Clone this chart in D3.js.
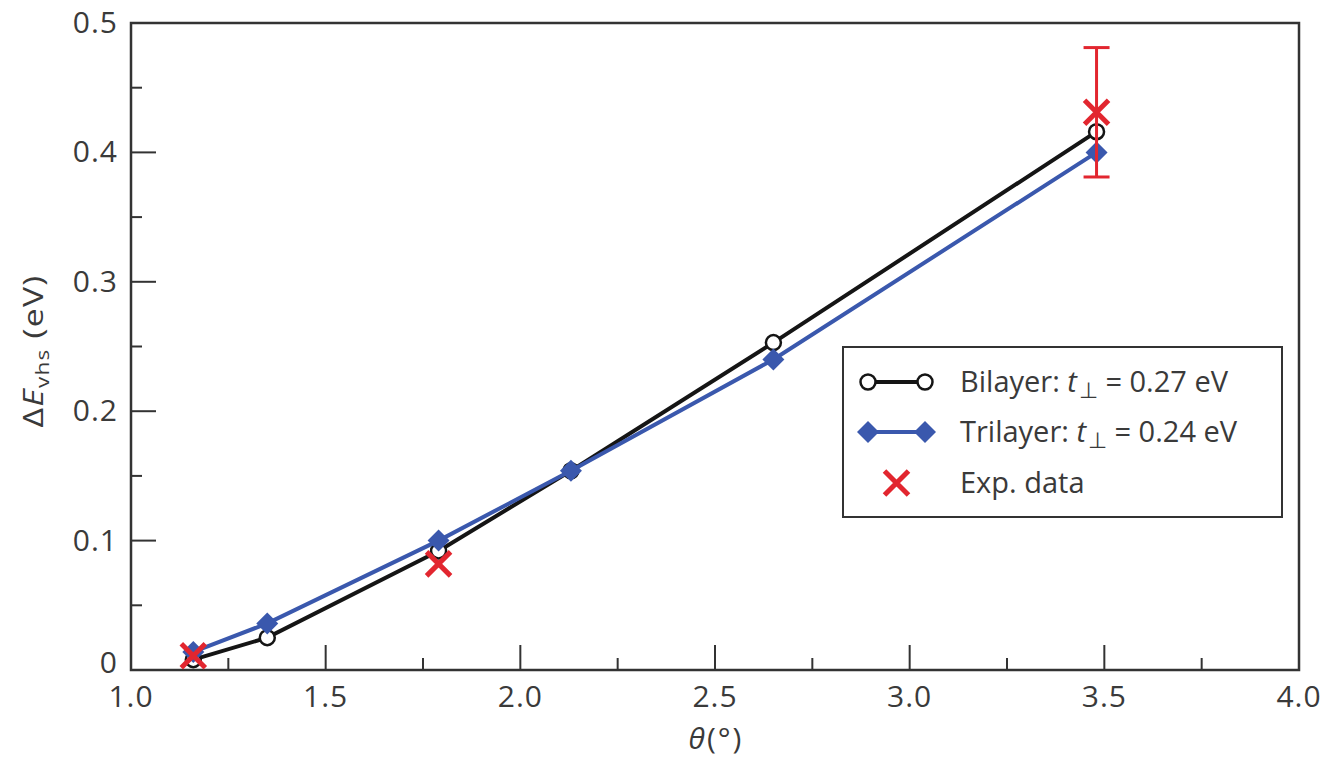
<!DOCTYPE html>
<html>
<head>
<meta charset="utf-8">
<script src="https://cdn.jsdelivr.net/npm/d3@7"></script>
<style>
  html, body { margin: 0; padding: 0; background: #fff; }
  svg { display: block; }
  text { font-family: "Open Sans", "Noto Sans", sans-serif; fill: #3a3a3a; }
</style>
</head>
<body>
<svg id="chart" width="1327" height="760"></svg>
<script>
// Twist angle (degrees)
const thetaBilayer = [1.16, 1.35, 1.79, 2.13, 2.65, 3.48];
const bilayerGap   = [0.008, 0.025, 0.092, 0.154, 0.253, 0.416];

const thetaTrilayer = [1.16, 1.35, 1.79, 2.13, 2.65, 3.48];
const trilayerGap   = [0.014, 0.036, 0.100, 0.154, 0.240, 0.400];

const thetaExp = [1.16, 1.79, 3.48];
const expGap   = [0.011, 0.082, 0.431];
const expErr   = [0, 0, 0.05];

const xTicks = [1.0, 1.5, 2.0, 2.5, 3.0, 3.5, 4.0];
const xTickLabels = ["1.0", "1.5", "2.0", "2.5", "3.0", "3.5", "4.0"];
const yTicks = [0, 0.1, 0.2, 0.3, 0.4, 0.5];
const yTickLabels = ["0", "0.1", "0.2", "0.3", "0.4", "0.5"];

const colBlack = "#151515";
const colBlue = "#3a58ad";
const colRed = "#e2262f";
const colAxis = "#333";

const svg = d3.select("#chart");
const margin = { left: 131, top: 23, right: 1327 - 1299, bottom: 760 - 670 };
const W = 1327 - margin.left - margin.right;
const H = 760 - margin.top - margin.bottom;

const x = d3.scaleLinear().domain([1, 4]).range([0, W]);
const y = d3.scaleLinear().domain([0, 0.5]).range([H, 0]);

const g = svg.append("g").attr("transform", `translate(${margin.left},${margin.top})`);

// ticks pointing inward: major + minor
const minorX = d3.range(1.25, 4, 0.5);
const minorY = d3.range(0.05, 0.5, 0.1);

const ticksG = g.append("g").attr("stroke", colAxis).attr("stroke-width", 2);
xTicks.slice(1, -1).forEach(v => ticksG.append("line")
  .attr("x1", x(v)).attr("x2", x(v)).attr("y1", H).attr("y2", H - 25));
minorX.forEach(v => ticksG.append("line")
  .attr("x1", x(v)).attr("x2", x(v)).attr("y1", H).attr("y2", H - 12));
yTicks.slice(1, -1).forEach(v => ticksG.append("line")
  .attr("x1", 0).attr("x2", 25).attr("y1", y(v)).attr("y2", y(v)));
minorY.forEach(v => ticksG.append("line")
  .attr("x1", 0).attr("x2", 11).attr("y1", y(v)).attr("y2", y(v)));

// frame
g.append("rect").attr("x", 0).attr("y", 0).attr("width", W).attr("height", H)
  .attr("fill", "none").attr("stroke", colAxis).attr("stroke-width", 2.5);

// tick labels
xTicks.forEach((v, i) => g.append("text")
  .attr("x", x(v)).attr("y", H + 37).attr("text-anchor", "middle")
  .attr("font-size", 30).attr("letter-spacing", 1).text(xTickLabels[i]));
yTicks.forEach((v, i) => g.append("text")
  .attr("x", -13).attr("y", y(v) + (v === 0 ? 3 : 10)).attr("text-anchor", "end")
  .attr("font-size", 30).attr("letter-spacing", 1).text(yTickLabels[i]));

// axis titles
const xt = svg.append("text").attr("x", 716).attr("y", 749).attr("text-anchor", "middle")
  .attr("font-size", 30).attr("letter-spacing", 2);
xt.append("tspan").attr("font-style", "italic").text("θ");
xt.append("tspan").text("(°)");

const yt = svg.append("text")
  .attr("transform", "translate(43,351) rotate(-90) scale(1.25,1)")
  .attr("text-anchor", "middle").attr("font-size", 27).attr("letter-spacing", 1);
yt.append("tspan").text("Δ");
yt.append("tspan").attr("font-style", "italic").text("E");
yt.append("tspan").attr("font-size", 18).attr("dy", 6).text("vhs");
yt.append("tspan").attr("dy", -6).text(" (eV)");

// series
const line = d3.line().x(d => x(d[0])).y(d => y(d[1]));
const biData = thetaBilayer.map((t, i) => [t, bilayerGap[i]]);
const triData = thetaTrilayer.map((t, i) => [t, trilayerGap[i]]);
const expData = thetaExp.map((t, i) => [t, expGap[i], expErr[i]]);

const diamond = s => `M0,${-s}L${s},0L0,${s}L${-s},0Z`;
const cross = s => `M${-s},${-s}L${s},${s}M${-s},${s}L${s},${-s}`;

g.append("path").datum(biData).attr("d", line)
  .attr("fill", "none").attr("stroke", colBlack).attr("stroke-width", 4);
g.append("g").selectAll("circle").data(biData).join("circle")
  .attr("cx", d => x(d[0])).attr("cy", d => y(d[1])).attr("r", 7.5)
  .attr("fill", "#fff").attr("stroke", colBlack).attr("stroke-width", 2.5);

g.append("path").datum(triData).attr("d", line)
  .attr("fill", "none").attr("stroke", colBlue).attr("stroke-width", 4);
g.append("g").selectAll("path").data(triData).join("path")
  .attr("transform", d => `translate(${x(d[0])},${y(d[1])})`)
  .attr("d", diamond(11)).attr("fill", colBlue);

// experimental points with error bars
const eg = g.append("g").attr("stroke", colRed);
expData.filter(d => d[2] > 0).forEach(d => {
  const cx = x(d[0]), y1 = y(d[1] + d[2]), y0 = y(d[1] - d[2]);
  eg.append("line").attr("x1", cx).attr("x2", cx).attr("y1", y1).attr("y2", y0).attr("stroke-width", 3);
  eg.append("line").attr("x1", cx - 13).attr("x2", cx + 13).attr("y1", y1).attr("y2", y1).attr("stroke-width", 3);
  eg.append("line").attr("x1", cx - 13).attr("x2", cx + 13).attr("y1", y0).attr("y2", y0).attr("stroke-width", 3);
});
eg.selectAll("path").data(expData).join("path")
  .attr("transform", d => `translate(${x(d[0])},${y(d[1])})`)
  .attr("d", cross(12)).attr("fill", "none").attr("stroke-width", 5);

// legend
const lg = svg.append("g");
lg.append("rect").attr("x", 843).attr("y", 347).attr("width", 439).attr("height", 170)
  .attr("fill", "#fff").attr("stroke", colAxis).attr("stroke-width", 2);
const rows = [382, 432, 483];
const lx0 = 868, lx1 = 925;
lg.append("line").attr("x1", lx0).attr("x2", lx1).attr("y1", rows[0]).attr("y2", rows[0])
  .attr("stroke", colBlack).attr("stroke-width", 4);
[lx0, lx1].forEach(cx => lg.append("circle").attr("cx", cx).attr("cy", rows[0]).attr("r", 7.5)
  .attr("fill", "#fff").attr("stroke", colBlack).attr("stroke-width", 2.5));
lg.append("line").attr("x1", lx0).attr("x2", lx1).attr("y1", rows[1]).attr("y2", rows[1])
  .attr("stroke", colBlue).attr("stroke-width", 4);
[lx0, lx1].forEach(cx => lg.append("path").attr("transform", `translate(${cx},${rows[1]})`)
  .attr("d", diamond(11)).attr("fill", colBlue));
lg.append("path").attr("transform", `translate(${(lx0 + lx1) / 2},${rows[2]})`)
  .attr("d", cross(12)).attr("fill", "none").attr("stroke", colRed).attr("stroke-width", 5);

const legendText = [
  ["Bilayer: ", "0.27 eV"],
  ["Trilayer: ", "0.24 eV"]
];
legendText.forEach((lt, i) => {
  const t = lg.append("text").attr("x", 960).attr("y", rows[i] + 10).attr("font-size", 29);
  t.append("tspan").text(lt[0]);
  t.append("tspan").attr("font-style", "italic").text("t");
  t.append("tspan").attr("font-size", 22).attr("dx", 2).attr("dy", 6).text("⊥");
  t.append("tspan").attr("dy", -6).text(" = " + lt[1]);
});
lg.append("text").attr("x", 960).attr("y", rows[2] + 10).attr("font-size", 29).text("Exp. data");
</script>
</body>
</html>
